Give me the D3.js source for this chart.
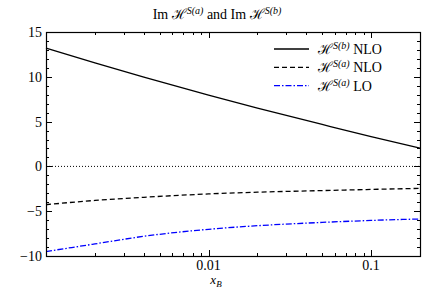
<!DOCTYPE html>
<html>
<head>
<meta charset="utf-8">
<script src="https://cdnjs.cloudflare.com/ajax/libs/d3/7.8.5/d3.min.js"></script>
<style>
  body { margin: 0; background: #fff; }
  text { font-family: "Liberation Serif", "DejaVu Serif", serif; fill: #000; }
</style>
</head>
<body>
<svg id="chart" width="442" height="290"></svg>
<script>
// values
var xB = [0.001, 0.002, 0.004, 0.01, 0.02, 0.05, 0.1, 0.2];
var hSbNLO = [13.2, 11.55, 9.95, 7.95, 6.5, 4.68, 3.33, 2.05];
var hSaNLO = [-4.27, -3.8, -3.45, -3.07, -2.88, -2.7, -2.57, -2.45];
var hSaLO = [-9.5, -8.65, -7.8, -7.02, -6.62, -6.25, -6.03, -5.87];

var yTicks = [-10, -5, 0, 5, 10, 15];
var xTicks = [0.01, 0.1];
var xTickLabels = ['0.01', '0.1'];

var series = [
  { sup: 'S(b)', tag: 'NLO', values: hSbNLO, color: '#000', dash: null },
  { sup: 'S(a)', tag: 'NLO', values: hSaNLO, color: '#000', dash: '5,3' },
  { sup: 'S(a)', tag: 'LO', values: hSaLO, color: '#0000ff', dash: '6,2,1.5,2' }
];

var svg = d3.select('#chart');
// plot box (note: "top" is taken by window.top)
var pLeft = 46, pRight = 420, pTop = 32, pBottom = 256;

var x = d3.scaleLog().domain([0.001, 0.2]).range([pLeft, pRight]);
var y = d3.scaleLinear().domain([-10, 15]).range([pBottom, pTop]);

// minor ticks
var xMinor = [];
[0.001, 0.01, 0.1].forEach(function(d) {
  for (var k = 2; k <= 9; k++) {
    var v = d * k;
    if (v <= 0.2 + 1e-9) xMinor.push(v);
  }
});
var yMinor = d3.range(-10, 16, 1).filter(function(v) { return v % 5 !== 0; });

var g = svg.append('g');

// tick marks pointing inward on all four sides
var ticks = g.append('g').attr('stroke', '#000').attr('stroke-width', 1);
function hTick(yy, len) {
  ticks.append('line').attr('x1', pLeft).attr('x2', pLeft + len).attr('y1', yy).attr('y2', yy);
  ticks.append('line').attr('x1', pRight).attr('x2', pRight - len).attr('y1', yy).attr('y2', yy);
}
function vTick(xx, len) {
  ticks.append('line').attr('x1', xx).attr('x2', xx).attr('y1', pBottom).attr('y2', pBottom - len);
  ticks.append('line').attr('x1', xx).attr('x2', xx).attr('y1', pTop).attr('y2', pTop + len);
}
yTicks.forEach(function(v) { hTick(Math.round(y(v)) + 0.5, 6); });
yMinor.forEach(function(v) { hTick(Math.round(y(v)) + 0.5, 3); });
xTicks.forEach(function(v) { vTick(Math.round(x(v)) + 0.5, 6); });
xMinor.forEach(function(v) { vTick(Math.round(x(v)) + 0.5, 3); });

// zero line
g.append('line')
  .attr('x1', pLeft).attr('x2', pRight)
  .attr('y1', y(0)).attr('y2', y(0))
  .attr('stroke', '#000').attr('stroke-width', 1)
  .attr('stroke-dasharray', '1,2');

// curves
var line = d3.line()
  .x(function(d) { return x(d[0]); })
  .y(function(d) { return y(d[1]); })
  .curve(d3.curveMonotoneX);

series.forEach(function(s) {
  g.append('path')
    .datum(xB.map(function(v, i) { return [v, s.values[i]]; }))
    .attr('d', line)
    .attr('fill', 'none')
    .attr('stroke', s.color)
    .attr('stroke-width', 1.3)
    .attr('stroke-dasharray', s.dash);
});

// frame
g.append('rect')
  .attr('x', pLeft + 0.5).attr('y', pTop + 0.5)
  .attr('width', pRight - pLeft).attr('height', pBottom - pTop)
  .attr('fill', 'none').attr('stroke', '#000').attr('stroke-width', 1.2);

// y tick labels
g.selectAll('.ylab').data(yTicks).enter().append('text')
  .attr('x', pLeft - 4)
  .attr('y', function(d) { return y(d) + 5; })
  .attr('text-anchor', 'end')
  .attr('font-size', 14)
  .text(function(d) { return d < 0 ? '\u2212' + Math.abs(d) : d; });

// x tick labels
g.selectAll('.xlab').data(xTicks).enter().append('text')
  .attr('x', function(d) { return x(d); })
  .attr('y', 270)
  .attr('text-anchor', 'middle')
  .attr('font-size', 14)
  .text(function(d, i) { return xTickLabels[i]; });

// x axis title
var xt = g.append('text').attr('x', 216).attr('y', 284).attr('text-anchor', 'middle').attr('font-size', 13);
xt.append('tspan').attr('font-style', 'italic').text('x');
xt.append('tspan').attr('font-style', 'italic').attr('font-size', 9).attr('dy', 3).text('B');

// title
var tt = g.append('text').attr('x', 217).attr('y', 19).attr('text-anchor', 'middle').attr('font-size', 14);
tt.append('tspan').text('Im \u210B');
tt.append('tspan').attr('font-size', 10).attr('dy', -5).attr('font-style', 'italic').text('S(a)');
tt.append('tspan').attr('dy', 5).text(' and Im \u210B');
tt.append('tspan').attr('font-size', 10).attr('dy', -5).attr('font-style', 'italic').text('S(b)');

// legend
var leg = g.append('g');
series.forEach(function(s, i) {
  var ly = 49 + i * 18.3;
  leg.append('line')
    .attr('x1', 274).attr('x2', 309)
    .attr('y1', ly).attr('y2', ly)
    .attr('stroke', s.color).attr('stroke-width', 1.3)
    .attr('stroke-dasharray', s.dash);
  var t = leg.append('text').attr('x', 318).attr('y', ly + 5).attr('font-size', 14);
  t.append('tspan').text('\u210B');
  t.append('tspan').attr('font-size', 10).attr('dy', -5).attr('font-style', 'italic').text(s.sup);
  t.append('tspan').attr('dy', 5).text(' ' + s.tag);
});
</script>
</body>
</html>
